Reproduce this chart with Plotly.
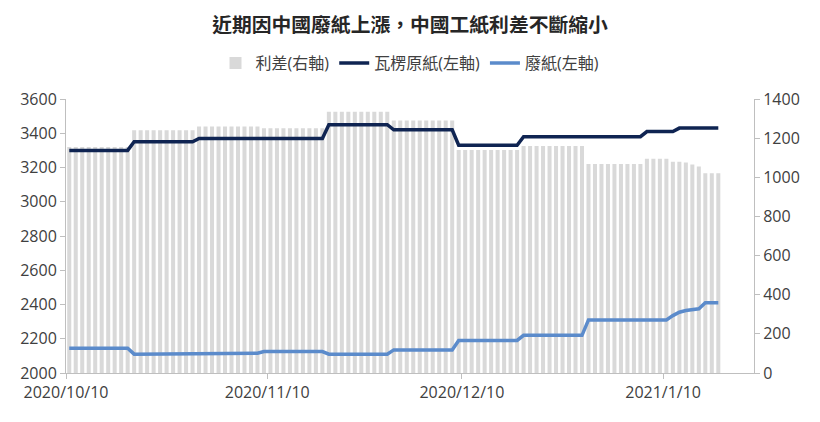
import pandas as pd
import plotly.graph_objects as go

# daily data, 2020/10/10 - 2021/1/18
dates = pd.date_range("2020-10-10", "2021-01-18", freq="D")

# 利差 (right axis)
spread = [1155, 1155, 1155, 1155, 1155, 1155, 1155, 1155, 1155, 1155,
          1240, 1240, 1240, 1240, 1240, 1240, 1240, 1240, 1240, 1240,
          1260, 1260, 1260, 1260, 1260, 1260, 1260, 1260, 1260, 1260,
          1250, 1250, 1250, 1250, 1250, 1250, 1250, 1250, 1250, 1250,
          1335, 1335, 1335, 1335, 1335, 1335, 1335, 1335, 1335, 1335,
          1290, 1290, 1290, 1290, 1290, 1290, 1290, 1290, 1290, 1290,
          1140, 1140, 1140, 1140, 1140, 1140, 1140, 1140, 1140, 1140,
          1160, 1160, 1160, 1160, 1160, 1160, 1160, 1160, 1160, 1160,
          1068, 1068, 1068, 1068, 1068, 1068, 1068, 1068, 1068,
          1095, 1095, 1095, 1095,
          1080, 1080, 1075, 1065, 1055,
          1020, 1020, 1020]

# 瓦楞原紙 (left axis)
container_board = [3300, 3300, 3300, 3300, 3300, 3300, 3300, 3300, 3300, 3300,
                   3350, 3350, 3350, 3350, 3350, 3350, 3350, 3350, 3350, 3350,
                   3370, 3370, 3370, 3370, 3370, 3370, 3370, 3370, 3370, 3370,
                   3370, 3370, 3370, 3370, 3370, 3370, 3370, 3370, 3370, 3370,
                   3450, 3450, 3450, 3450, 3450, 3450, 3450, 3450, 3450, 3450,
                   3420, 3420, 3420, 3420, 3420, 3420, 3420, 3420, 3420, 3420,
                   3330, 3330, 3330, 3330, 3330, 3330, 3330, 3330, 3330, 3330,
                   3380, 3380, 3380, 3380, 3380, 3380, 3380, 3380, 3380, 3380,
                   3380, 3380, 3380, 3380, 3380, 3380, 3380, 3380, 3380,
                   3410, 3410, 3410, 3410, 3410,
                   3430, 3430, 3430, 3430, 3430, 3430, 3430]

# 廢紙 (left axis)
waste_paper = [2145, 2145, 2145, 2145, 2145, 2145, 2145, 2145, 2145, 2145,
               2110, 2110, 2110, 2110, 2110, 2110, 2110, 2110, 2110, 2110,
               2115, 2115, 2115, 2115, 2115, 2115, 2115, 2115, 2115, 2115,
               2125, 2125, 2125, 2125, 2125, 2125, 2125, 2125, 2125, 2125,
               2110, 2110, 2110, 2110, 2110, 2110, 2110, 2110, 2110, 2110,
               2135, 2135, 2135, 2135, 2135, 2135, 2135, 2135, 2135, 2135,
               2190, 2190, 2190, 2190, 2190, 2190, 2190, 2190, 2190, 2190,
               2220, 2220, 2220, 2220, 2220, 2220, 2220, 2220, 2220, 2220,
               2310, 2310, 2310, 2310, 2310, 2310, 2310, 2310, 2310, 2310,
               2310, 2310, 2310,
               2335, 2355, 2365, 2370, 2375,
               2410, 2410, 2410]

tick_dates = ["2020-10-10", "2020-11-10", "2020-12-10", "2021-01-10"]
tick_labels = ["2020/10/10", "2020/11/10", "2020/12/10", "2021/1/10"]

font = "Open Sans, Noto Sans CJK TC, sans-serif"
cjk_font = "Noto Sans CJK TC, sans-serif"
day = 86400000

fig = go.Figure()

# bars on the base axis (right side) so the lines are drawn above them
fig.add_trace(go.Bar(x=dates, y=spread, name="利差(右軸)",
                     marker_color="#D9D9D9", marker_line_width=0,
                     xperiod=day, xperiodalignment="middle", yaxis="y"))
fig.add_trace(go.Scatter(x=dates, y=container_board, name="瓦楞原紙(左軸)",
                         mode="lines", line=dict(color="#0F2452", width=3.5),
                         xperiod=day, xperiodalignment="middle", yaxis="y2"))
fig.add_trace(go.Scatter(x=dates, y=waste_paper, name="廢紙(左軸)",
                         mode="lines", line=dict(color="#5B8BCB", width=3.5),
                         xperiod=day, xperiodalignment="middle", yaxis="y2"))

axis_col = "#BFBFBF"
common = dict(showline=True, linecolor=axis_col, showgrid=False,
              ticks="outside", ticklen=5, tickcolor=axis_col,
              zeroline=False, automargin=False)
# page has an 8px body margin, figure ends up 804 wide
fig.update_layout(
    width=804, height=422,
    margin=dict(l=58, r=58, t=91, b=57),
    paper_bgcolor="white", plot_bgcolor="white",
    font=dict(family=font, size=16, color="#404040"),
    bargap=0.38,
    title=dict(text="<b>近期因中國廢紙上漲，中國工紙利差不斷縮小</b>",
               x=0.5, xanchor="center", y=0.96, yanchor="middle",
               font=dict(family=cjk_font, size=19.8, color="#262626")),
    legend=dict(orientation="h", x=0.5, xanchor="center", y=1.131,
                yanchor="middle", font=dict(size=16), traceorder="normal"),
    xaxis=dict(type="date", range=["2020-10-10", "2021-01-24"],
               tickvals=tick_dates, ticktext=tick_labels, **common),
    yaxis=dict(side="right", range=[0, 1400], dtick=200, **common),
    yaxis2=dict(side="left", overlaying="y", range=[2000, 3600], dtick=200,
                **common),
)

fig.write_html("out.html")
